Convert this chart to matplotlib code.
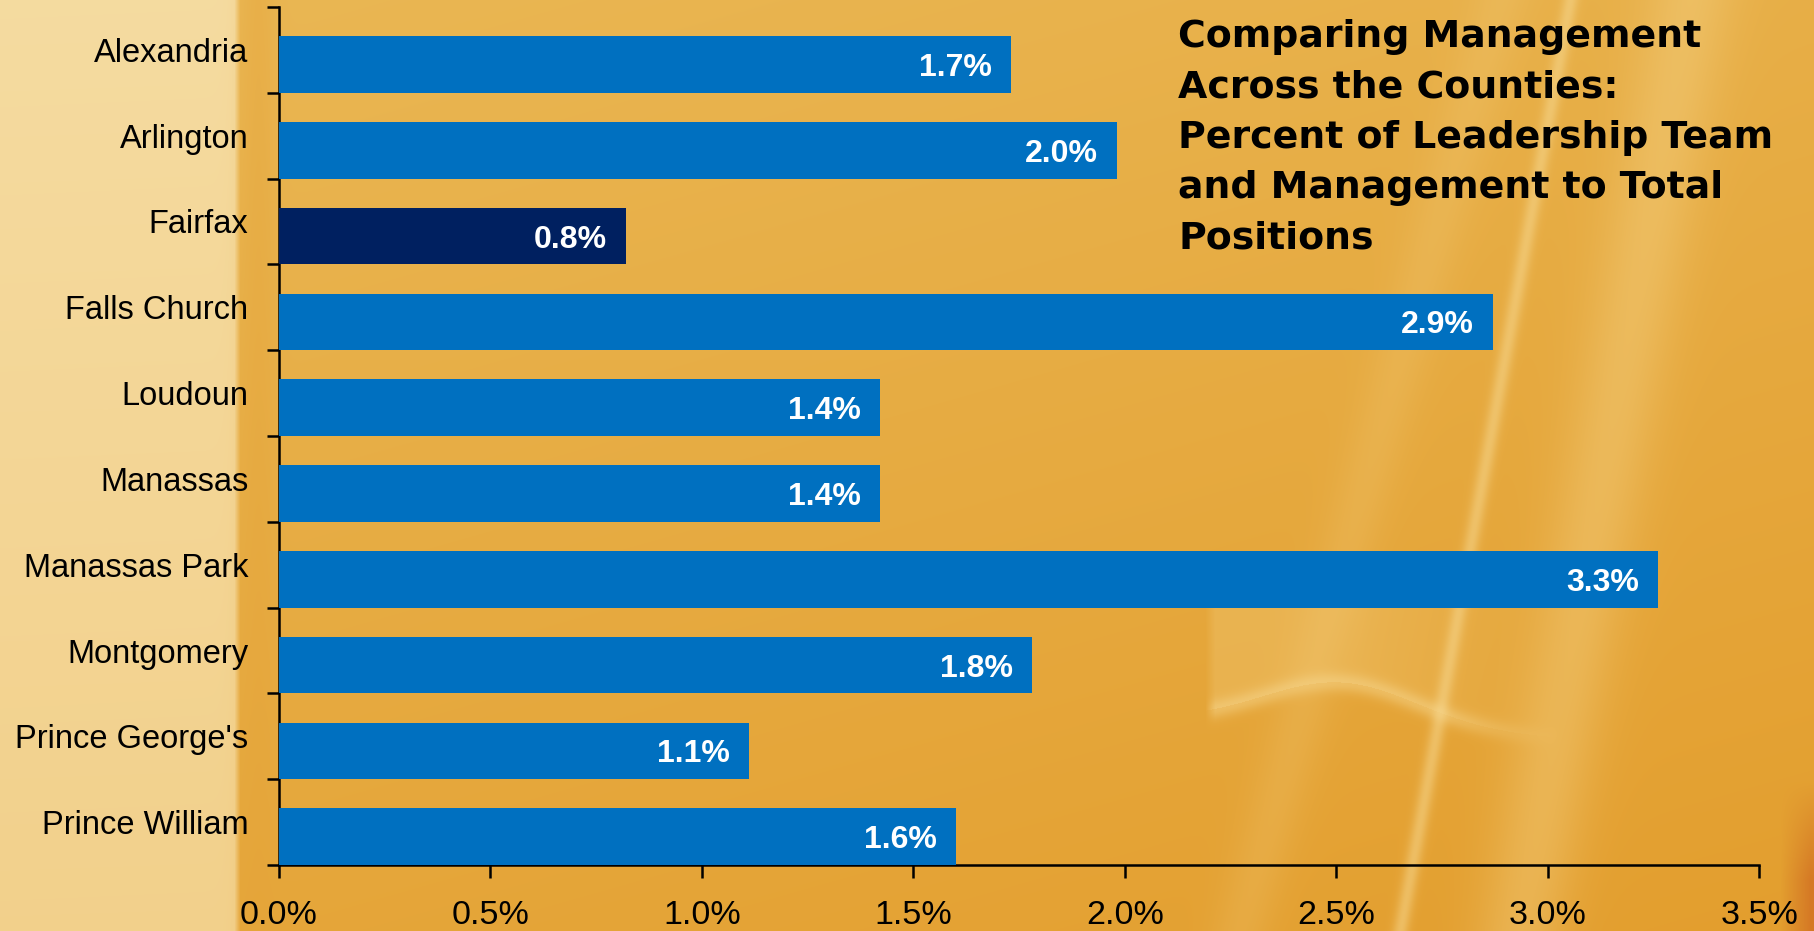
import numpy as np
import matplotlib
matplotlib.use("Agg")
import matplotlib.pyplot as plt
from matplotlib.ticker import FixedLocator, FuncFormatter

categories = ["Alexandria", "Arlington", "Fairfax", "Falls Church", "Loudoun",
              "Manassas", "Manassas Park", "Montgomery", "Prince George's", "Prince William"]
values = [1.73, 1.98, 0.82, 2.87, 1.42, 1.42, 3.26, 1.78, 1.11, 1.60]
labels = ["1.7%", "2.0%", "0.8%", "2.9%", "1.4%", "1.4%", "3.3%", "1.8%", "1.1%", "1.6%"]
xticks = [0.0, 0.5, 1.0, 1.5, 2.0, 2.5, 3.0, 3.5]
highlight = "Fairfax"
title = ("Comparing Management\nAcross the Counties:\nPercent of Leadership Team\n"
         "and Management to Total\nPositions")

W, H = 1815, 931
fig = plt.figure(figsize=(W / 100, H / 100), dpi=100)

# ---- decorative background ----
yy, xx = np.mgrid[0:H, 0:W].astype(float)
u = xx / W
v = yy / H
light = np.array([0.965, 0.875, 0.660])
gold = np.array([0.930, 0.765, 0.400])
dark = np.array([0.890, 0.620, 0.180])
t = np.clip(0.30 + 0.45 * v + 0.25 * u, 0, 1)[..., None]
img = gold * (1 - t) + dark * t
# left pale panel with darker strip at its edge
left = np.clip((237 - xx) / 6 + 0.5, 0, 1)[..., None] * 0.9
lp = light * (1 - 0.25 * v[..., None]) + np.array([0.93, 0.72, 0.35]) * 0.25 * v[..., None]
img = img * (1 - left) + lp * left
strip = (np.exp(-((xx - 258) / 18) ** 2))[..., None] * 0.35
img = img * (1 - strip) + np.array([0.90, 0.64, 0.22]) * strip
pale = np.array([0.98, 0.88, 0.62])
# pale wave region
wave_y = 720 - 45 * np.exp(-((xx - 1340) / 110) ** 2) + 0.05 * (xx - 1200)
region = ((xx > 1205) & (yy < wave_y) & (yy > 560)).astype(float)
region *= np.clip((xx - 1205) / 10, 0, 1) * np.clip((1560 - xx) / 200, 0, 1)
img = img * (1 - 0.22 * region[..., None]) + pale * 0.22 * region[..., None]
edge = np.exp(-((yy - wave_y) / 10) ** 2) * np.clip((xx - 1205) / 10, 0, 1) * np.clip((1560 - xx) / 120, 0, 1)
img = img * (1 - 0.4 * edge[..., None]) + pale * 0.4 * edge[..., None]
# bright diagonal bands on the right
for x0, x1, wd, amp in [(1690, 1520, 45, 0.30), (1570, 1400, 8, 0.45), (1500, 1240, 30, 0.15)]:
    xc = x0 + (x1 - x0) * v
    band = np.exp(-((xx - xc) / wd) ** 2)[..., None] * amp
    img = img * (1 - band) + pale * band
corner = np.clip((xx - 1780) / 30, 0, 1) * np.clip((yy - 780) / 100, 0, 1)
img = img * (1 - 0.6 * corner[..., None]) + np.array([0.80, 0.38, 0.12]) * 0.6 * corner[..., None]
bg = fig.add_axes([0, 0, 1, 1])
bg.imshow(np.clip(img, 0, 1), aspect="auto", extent=[0, 1, 0, 1], interpolation="bilinear")
bg.axis("off")

# ---- chart ----
ax = fig.add_axes([279 / W, 1 - 865 / H, (1759.5 - 279) / W, (865 - 7) / H])
ax.patch.set_alpha(0)
n = len(categories)
pos = [n - 1 - i for i in range(n)]
bar_h = 0.66
colors = ["#002060" if c == highlight else "#0070C0" for c in categories]
ax.barh([p - 0.5 for p in pos], values, height=bar_h, align="edge", color=colors, zorder=3)
for p, val, lab in zip(pos, values, labels):
    ax.text(val - 0.045, p - 0.5 + bar_h / 2 - 0.04, lab, ha="right", va="center",
            color="white", fontsize=23, fontweight="bold", family="Liberation Sans", zorder=4)

ax.set_xlim(0, 3.5)
ax.set_ylim(-0.5, n - 0.5)
ax.set_xticks(xticks)
ax.xaxis.set_major_formatter(FuncFormatter(lambda x, _: f"{x:.1f}%"))
ax.set_yticks(pos)
ax.set_yticklabels(categories)
ax.yaxis.set_minor_locator(FixedLocator([k - 0.5 for k in range(n + 1)]))
ax.tick_params(axis="y", which="major", length=0, pad=22, labelsize=23.5)
ax.tick_params(axis="y", which="minor", length=9, width=1.8, direction="out", color="black")
ax.tick_params(axis="x", which="major", length=9, width=1.8, direction="out",
               labelsize=24.5, pad=16)
for lab in ax.get_xticklabels() + ax.get_yticklabels():
    lab.set_family("Liberation Sans")
for s in ["top", "right"]:
    ax.spines[s].set_visible(False)
for s in ["left", "bottom"]:
    ax.spines[s].set_linewidth(1.8)
    ax.spines[s].set_color("black")

fig.text(1178 / W, 1 - 19 / H, title, ha="left", va="top", fontsize=27.3,
         fontweight="bold", family="DejaVu Sans", linespacing=1.51, color="black")

fig.savefig("out.png", dpi=100)
